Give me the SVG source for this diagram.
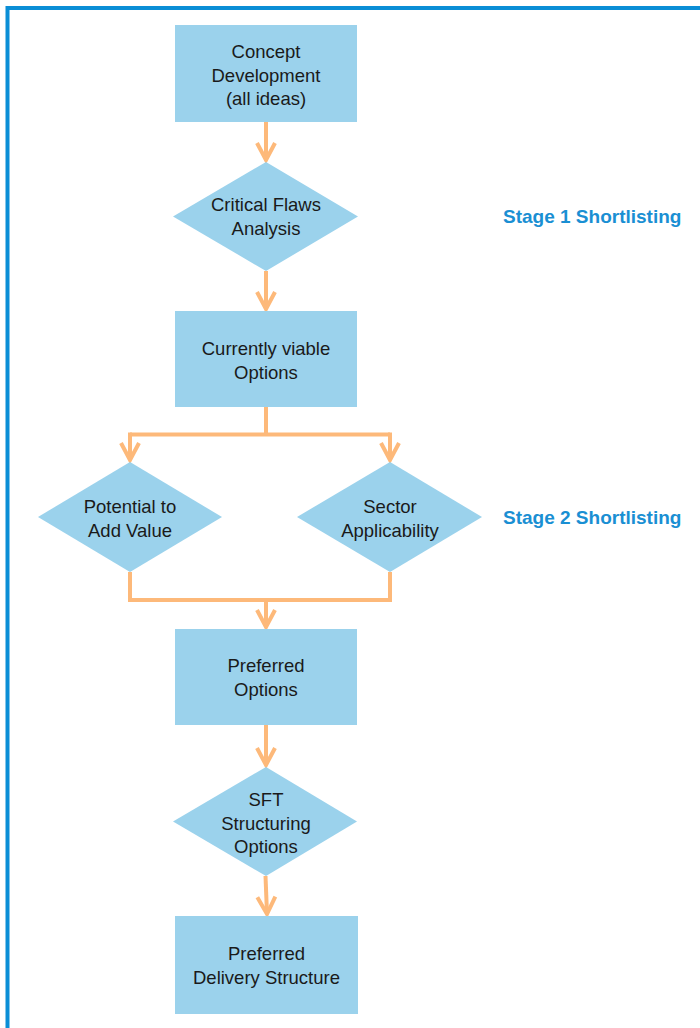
<svg xmlns="http://www.w3.org/2000/svg" width="700" height="1028" viewBox="0 0 700 1028">
<defs>
<style>
.box{fill:#9bd2ec;}
.t{font-family:"Liberation Sans",Arial,sans-serif;font-size:18.5px;fill:#1a1a1a;text-anchor:middle;}
.stage{font-family:"Liberation Sans",Arial,sans-serif;font-size:19px;font-weight:bold;fill:#1a8fd3;}
.c{fill:none;stroke:#fdb97a;stroke-width:4;}
</style>
<marker id="ah" markerUnits="userSpaceOnUse" markerWidth="24" markerHeight="24" refX="20" refY="12" orient="auto" viewBox="0 0 24 24">
<path d="M3,3 L20,12 L3,21" fill="none" stroke="#fdb97a" stroke-width="4"/>
</marker>
</defs>
<rect width="700" height="1028" fill="#ffffff"/>
<path d="M7.5,1028 L7.5,8 L700,8" fill="none" stroke="#0a8ed6" stroke-width="4"/>
<g id="connectors">
<path class="c" d="M266,122 L266,160" marker-end="url(#ah)"/>
<path class="c" d="M266,271 L266,309" marker-end="url(#ah)"/>
<path class="c" d="M266,407 L266,434.5"/>
<path class="c" d="M130,434.5 L390,434.5"/>
<path class="c" d="M130,432.5 L130,460" marker-end="url(#ah)"/>
<path class="c" d="M390,432.5 L390,460" marker-end="url(#ah)"/>
<path class="c" d="M130,572 L130,600 L390,600 L390,572"/>
<path class="c" d="M266,600 L266,627" marker-end="url(#ah)"/>
<path class="c" d="M266,725 L266,765" marker-end="url(#ah)"/>
<path class="c" d="M265.5,876 L267,914" marker-end="url(#ah)"/>
</g>
<g id="concept">
<rect class="box" x="175" y="25" width="182" height="97"/>
<text class="t" x="266" y="58">Concept</text>
<text class="t" x="266" y="81.5">Development</text>
<text class="t" x="266" y="105">(all ideas)</text>
</g>
<g id="critical">
<polygon class="box" points="266,162 358,216.5 266,271 173,216.5"/>
<text class="t" x="266" y="211">Critical Flaws</text>
<text class="t" x="266" y="234.5">Analysis</text>
</g>
<g id="viable">
<rect class="box" x="175" y="311" width="182" height="96"/>
<text class="t" x="266" y="355">Currently viable</text>
<text class="t" x="266" y="378.5">Options</text>
</g>
<g id="potential">
<polygon class="box" points="130,462 222,517 130,572 38,517"/>
<text class="t" x="130" y="513">Potential to</text>
<text class="t" x="130" y="536.5">Add Value</text>
</g>
<g id="sector">
<polygon class="box" points="390,462 482,517 390,572 297,517"/>
<text class="t" x="390" y="513">Sector</text>
<text class="t" x="390" y="536.5">Applicability</text>
</g>
<g id="preferred">
<rect class="box" x="175" y="629" width="182" height="96"/>
<text class="t" x="266" y="672">Preferred</text>
<text class="t" x="266" y="695.5">Options</text>
</g>
<g id="sft">
<polygon class="box" points="266,767 357,821.5 266,876 173,821.5"/>
<text class="t" x="266" y="806">SFT</text>
<text class="t" x="266" y="829.5">Structuring</text>
<text class="t" x="266" y="853">Options</text>
</g>
<g id="delivery">
<rect class="box" x="175" y="916" width="183" height="98"/>
<text class="t" x="266.5" y="960">Preferred</text>
<text class="t" x="266.5" y="983.5">Delivery Structure</text>
</g>
<g id="stage1">
<text class="stage" x="503" y="223">Stage 1 Shortlisting</text>
</g>
<g id="stage2">
<text class="stage" x="503" y="524">Stage 2 Shortlisting</text>
</g>
</svg>
